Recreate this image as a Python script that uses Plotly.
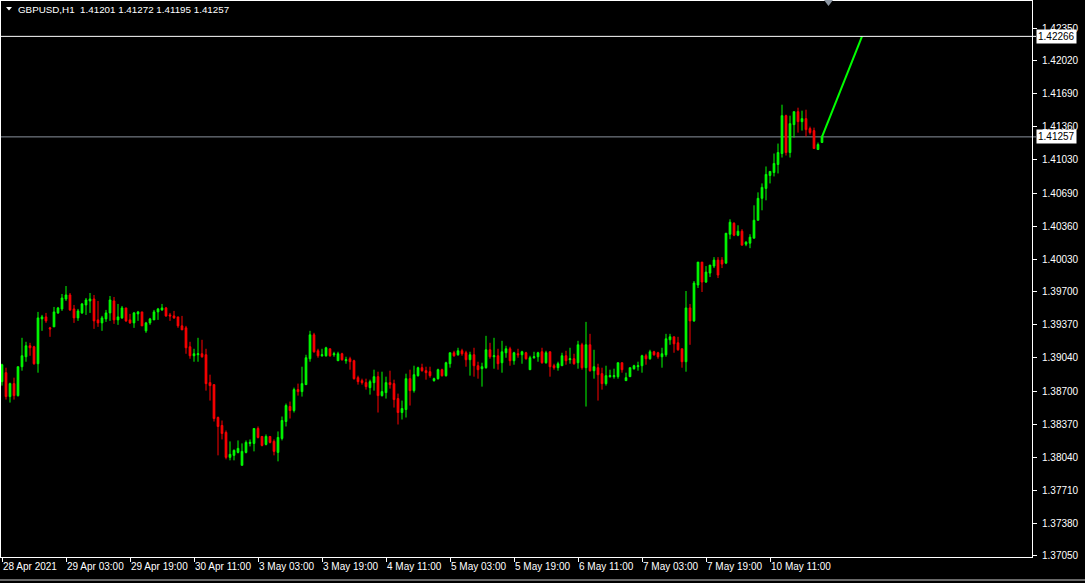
import plotly.graph_objects as go

# ---------------- data ----------------
symbol = "GBPUSD,H1"
bars = list(range(206))

open_ = [
    1.3880, 1.3889, 1.3865, 1.3878, 1.3866, 1.3895, 1.3905, 1.3916, 1.3915, 1.3898,
    1.3943, 1.3945, 1.3934, 1.3935, 1.3949, 1.3953, 1.3963, 1.3967, 1.3953, 1.3944,
    1.3949, 1.3957, 1.3961, 1.3963, 1.3942, 1.3939, 1.3943, 1.3949, 1.3961, 1.3942,
    1.3944, 1.3954, 1.3942, 1.3939, 1.3948, 1.3950, 1.3931, 1.3939, 1.3942, 1.3950,
    1.3952, 1.3954, 1.3947, 1.3946, 1.3945, 1.3936, 1.3934, 1.3915, 1.3906, 1.3907,
    1.3908, 1.3907, 1.3879, 1.3877, 1.3844, 1.3836, 1.3829, 1.3804, 1.3806, 1.3809,
    1.3796, 1.3809, 1.3818, 1.3818, 1.3833, 1.3825, 1.3817, 1.3825, 1.3820, 1.3809,
    1.3823, 1.3840, 1.3855, 1.3851, 1.3872, 1.3870, 1.3877, 1.3903, 1.3927, 1.3911,
    1.3906, 1.3906, 1.3913, 1.3907, 1.3901, 1.3908, 1.3901, 1.3903, 1.3901, 1.3884,
    1.3881, 1.3879, 1.3874, 1.3879, 1.3885, 1.3866, 1.3869, 1.3879, 1.3878, 1.3863,
    1.3849, 1.3852, 1.3883, 1.3871, 1.3886, 1.3894, 1.3891, 1.3890, 1.3881, 1.3883,
    1.3892, 1.3886, 1.3898, 1.3909, 1.3907, 1.3911, 1.3909, 1.3902, 1.3907, 1.3896,
    1.3893, 1.3894, 1.3912, 1.3905, 1.3906, 1.3899, 1.3909, 1.3913, 1.3901, 1.3908,
    1.3907, 1.3909, 1.3892, 1.3904, 1.3905, 1.3910, 1.3899, 1.3910, 1.3896, 1.3894,
    1.3896, 1.3906, 1.3902, 1.3903, 1.3899, 1.3917, 1.3894, 1.3917, 1.3891, 1.3894,
    1.3888, 1.3878, 1.3885, 1.3885, 1.3885, 1.3899, 1.3881, 1.3885, 1.3893, 1.3895,
    1.3896, 1.3906, 1.3903, 1.3910, 1.3909, 1.3905, 1.3907, 1.3922, 1.3925, 1.3919,
    1.3913, 1.3900, 1.3954, 1.3941, 1.3977, 1.4000, 1.3980, 1.3989, 1.3996, 1.4002,
    1.4002, 1.3999, 1.4028, 1.4039, 1.4027, 1.4031, 1.4018, 1.4019, 1.4024, 1.4042,
    1.4064, 1.4074, 1.4087, 1.4090, 1.4098, 1.4109, 1.4147, 1.4110, 1.4138, 1.4151,
    1.4141, 1.4144, 1.4134, 1.4132, 1.4113, 1.41201,
]
high = [
    1.3898, 1.3894, 1.3879, 1.3884, 1.3895, 1.3924, 1.3920, 1.3919, 1.3916, 1.3950,
    1.3947, 1.3949, 1.3935, 1.3955, 1.3955, 1.3968, 1.3976, 1.3969, 1.3957, 1.3953,
    1.3959, 1.3964, 1.3969, 1.3967, 1.3961, 1.3946, 1.3952, 1.3966, 1.3965, 1.3958,
    1.3956, 1.3954, 1.3948, 1.3950, 1.3951, 1.3950, 1.3940, 1.3944, 1.3952, 1.3954,
    1.3958, 1.3955, 1.3949, 1.3951, 1.3945, 1.3946, 1.3936, 1.3920, 1.3913, 1.3924,
    1.3922, 1.3913, 1.3887, 1.3877, 1.3845, 1.3841, 1.3831, 1.3820, 1.3812, 1.3821,
    1.3818, 1.3821, 1.3822, 1.3833, 1.3835, 1.3825, 1.3827, 1.3825, 1.3822, 1.3830,
    1.3845, 1.3858, 1.3860, 1.3874, 1.3878, 1.3895, 1.3907, 1.3931, 1.3929, 1.3913,
    1.3913, 1.3915, 1.3913, 1.3910, 1.3910, 1.3909, 1.3905, 1.3905, 1.3902, 1.3886,
    1.3883, 1.3883, 1.3882, 1.3892, 1.3890, 1.3890, 1.3885, 1.3891, 1.3882, 1.3868,
    1.3861, 1.3888, 1.3892, 1.3896, 1.3895, 1.3898, 1.3895, 1.3895, 1.3884, 1.3893,
    1.3893, 1.3900, 1.3909, 1.3911, 1.3914, 1.3913, 1.3911, 1.3910, 1.3914, 1.3900,
    1.3899, 1.3926, 1.3919, 1.3924, 1.3913, 1.3921, 1.3916, 1.3915, 1.3910, 1.3913,
    1.3911, 1.3910, 1.3906, 1.3910, 1.3910, 1.3914, 1.3911, 1.3910, 1.3898, 1.3900,
    1.3909, 1.3911, 1.3914, 1.3908, 1.3921, 1.3919, 1.3940, 1.3928, 1.3912, 1.3898,
    1.3894, 1.3896, 1.3892, 1.3893, 1.3899, 1.3899, 1.3889, 1.3894, 1.3897, 1.3900,
    1.3907, 1.3908, 1.3912, 1.3911, 1.3910, 1.3914, 1.3928, 1.3928, 1.3925, 1.3925,
    1.3913, 1.3971, 1.3958, 1.3981, 1.4000, 1.4000, 1.3996, 1.3997, 1.4005, 1.4005,
    1.4005, 1.4029, 1.4043, 1.4040, 1.4037, 1.4033, 1.4021, 1.4028, 1.4057, 1.4070,
    1.4079, 1.4096, 1.4091, 1.4109, 1.4119, 1.4158, 1.4148, 1.4147, 1.4151, 1.4155,
    1.4152, 1.4153, 1.4136, 1.4135, 1.4120, 1.41272,
]
low = [
    1.3876, 1.3862, 1.3859, 1.3862, 1.3865, 1.3891, 1.3900, 1.3906, 1.3897, 1.3889,
    1.3931, 1.3939, 1.3925, 1.3935, 1.3948, 1.3951, 1.3961, 1.3951, 1.3939, 1.3941,
    1.3948, 1.3947, 1.3949, 1.3933, 1.3935, 1.3931, 1.3940, 1.3941, 1.3938, 1.3937,
    1.3943, 1.3940, 1.3938, 1.3934, 1.3941, 1.3936, 1.3929, 1.3937, 1.3942, 1.3942,
    1.3951, 1.3945, 1.3941, 1.3943, 1.3934, 1.3932, 1.3908, 1.3903, 1.3900, 1.3900,
    1.3904, 1.3871, 1.3861, 1.3840, 1.3806, 1.3822, 1.3802, 1.3801, 1.3801, 1.3808,
    1.3796, 1.3808, 1.3815, 1.3810, 1.3823, 1.3815, 1.3816, 1.3818, 1.3806, 1.3800,
    1.3821, 1.3835, 1.3843, 1.3849, 1.3866, 1.3865, 1.3877, 1.3900, 1.3909, 1.3904,
    1.3905, 1.3905, 1.3905, 1.3905, 1.3901, 1.3901, 1.3898, 1.3892, 1.3882, 1.3877,
    1.3877, 1.3872, 1.3867, 1.3871, 1.3849, 1.3865, 1.3863, 1.3873, 1.3854, 1.3837,
    1.3842, 1.3844, 1.3856, 1.3869, 1.3885, 1.3890, 1.3882, 1.3884, 1.3880, 1.3882,
    1.3885, 1.3885, 1.3894, 1.3905, 1.3906, 1.3906, 1.3895, 1.3886, 1.3885, 1.3883,
    1.3875, 1.3893, 1.3903, 1.3893, 1.3892, 1.3889, 1.3904, 1.3896, 1.3897, 1.3904,
    1.3898, 1.3902, 1.3892, 1.3903, 1.3900, 1.3898, 1.3898, 1.3885, 1.3892, 1.3891,
    1.3896, 1.3897, 1.3898, 1.3897, 1.3893, 1.3892, 1.3855, 1.3890, 1.3883, 1.3861,
    1.3872, 1.3876, 1.3884, 1.3883, 1.3883, 1.3889, 1.3881, 1.3885, 1.3892, 1.3891,
    1.3889, 1.3897, 1.3902, 1.3906, 1.3903, 1.3894, 1.3905, 1.3917, 1.3909, 1.3911,
    1.3894, 1.3890, 1.3917, 1.3940, 1.3974, 1.3970, 1.3979, 1.3985, 1.3994, 1.3984,
    1.3994, 1.3998, 1.4023, 1.4026, 1.4026, 1.4017, 1.4016, 1.4014, 1.4024, 1.4042,
    1.4052, 1.4062, 1.4079, 1.4086, 1.4089, 1.4105, 1.4107, 1.4105, 1.4125, 1.4130,
    1.4132, 1.4126, 1.4128, 1.4114, 1.4113, 1.41195,
]
close = [
    1.3897, 1.3865, 1.3878, 1.3866, 1.3895, 1.3906, 1.3916, 1.3914, 1.3898, 1.3944,
    1.3945, 1.3941, 1.3933, 1.3950, 1.3954, 1.3964, 1.3967, 1.3952, 1.3944, 1.3951,
    1.3958, 1.3962, 1.3963, 1.3941, 1.3939, 1.3944, 1.3949, 1.3962, 1.3942, 1.3945,
    1.3954, 1.3941, 1.3939, 1.3949, 1.3950, 1.3936, 1.3939, 1.3943, 1.3950, 1.3953,
    1.3954, 1.3946, 1.3946, 1.3944, 1.3936, 1.3932, 1.3914, 1.3906, 1.3908, 1.3908,
    1.3905, 1.3878, 1.3876, 1.3843, 1.3835, 1.3828, 1.3804, 1.3807, 1.3811, 1.3813,
    1.3810, 1.3819, 1.3819, 1.3833, 1.3824, 1.3816, 1.3825, 1.3819, 1.3810, 1.3824,
    1.3841, 1.3856, 1.3851, 1.3872, 1.3870, 1.3878, 1.3904, 1.3927, 1.3910, 1.3906,
    1.3907, 1.3914, 1.3906, 1.3908, 1.3908, 1.3902, 1.3902, 1.3900, 1.3883, 1.3880,
    1.3879, 1.3875, 1.3880, 1.3885, 1.3866, 1.3870, 1.3879, 1.3877, 1.3862, 1.3849,
    1.3853, 1.3883, 1.3871, 1.3887, 1.3894, 1.3891, 1.3889, 1.3886, 1.3883, 1.3892,
    1.3886, 1.3899, 1.3909, 1.3906, 1.3911, 1.3908, 1.3902, 1.3907, 1.3896, 1.3892,
    1.3895, 1.3912, 1.3905, 1.3906, 1.3898, 1.3910, 1.3913, 1.3901, 1.3909, 1.3907,
    1.3910, 1.3903, 1.3904, 1.3905, 1.3909, 1.3899, 1.3909, 1.3895, 1.3894, 1.3898,
    1.3906, 1.3901, 1.3903, 1.3898, 1.3917, 1.3894, 1.3917, 1.3891, 1.3895, 1.3887,
    1.3878, 1.3886, 1.3886, 1.3886, 1.3899, 1.3892, 1.3884, 1.3894, 1.3896, 1.3896,
    1.3906, 1.3903, 1.3910, 1.3907, 1.3905, 1.3908, 1.3923, 1.3925, 1.3918, 1.3912,
    1.3900, 1.3954, 1.3941, 1.3979, 1.4000, 1.3980, 1.3990, 1.3997, 1.4002, 1.3987,
    1.3998, 1.4029, 1.4040, 1.4027, 1.4031, 1.4017, 1.4020, 1.4025, 1.4042, 1.4064,
    1.4075, 1.4088, 1.4091, 1.4099, 1.4110, 1.4147, 1.4110, 1.4139, 1.4151, 1.4141,
    1.4144, 1.4133, 1.4130, 1.4114, 1.4118, 1.41257,
]

time_tick_bars = [0, 16, 32, 48, 64, 80, 96, 112, 128, 144, 160, 176, 192]
time_tick_labels = [
    "28 Apr 2021", "29 Apr 03:00", "29 Apr 19:00", "30 Apr 11:00", "3 May 03:00",
    "3 May 19:00", "4 May 11:00", "5 May 03:00", "5 May 19:00", "6 May 11:00",
    "7 May 03:00", "7 May 19:00", "10 May 11:00",
]
price_ticks = [
    1.42350, 1.42020, 1.41690, 1.41360, 1.41030, 1.40690, 1.40360, 1.40030,
    1.39700, 1.39370, 1.39040, 1.38700, 1.38370, 1.38040, 1.37710, 1.37380, 1.37050,
]
level_line = 1.42266
trend_x = [205, 215]
trend_y = [1.41257, 1.42266]

# ---------------- layout geometry ----------------
W, H = 1085, 583
PL, PT, PR, PB = 1, 1, 1032, 557   # plot area in pixels


def pxx(px):
    return (px - PL) / (PR - PL)


def pxy(py):
    return (PB - py) / (PB - PT)


FONT = "Liberation Sans, Arial, sans-serif"
GREEN = "#00ff00"
RED = "#ff0000"

fig = go.Figure()
fig.add_trace(go.Candlestick(
    x=bars, open=open_, high=high, low=low, close=close,
    increasing=dict(line=dict(color=GREEN, width=1), fillcolor=GREEN),
    decreasing=dict(line=dict(color=RED, width=1), fillcolor=RED),
    whiskerwidth=0, showlegend=False, hoverinfo="skip",
))
fig.add_trace(go.Scatter(
    x=trend_x, y=trend_y, mode="lines",
    line=dict(color=GREEN, width=2), showlegend=False, hoverinfo="skip",
))

shapes = [
    dict(type="line", xref="paper", yref="y", x0=0, x1=pxx(1036), y0=level_line, y1=level_line,
         line=dict(color="#ffffff", width=1), layer="above"),
    dict(type="line", xref="paper", yref="y", x0=0, x1=pxx(1036), y0=close[-1], y1=close[-1],
         line=dict(color="#8a939e", width=1), layer="below"),
    dict(type="path", xref="paper", yref="paper",
         path=f"M {pxx(824)} {pxy(0)} L {pxx(833)} {pxy(0)} L {pxx(828.5)} {pxy(6)} Z",
         fillcolor="#8c96a2", line=dict(width=0), layer="above"),
    dict(type="path", xref="paper", yref="paper",
         path=f"M {pxx(6)} {pxy(7)} L {pxx(12)} {pxy(7)} L {pxx(9)} {pxy(10.5)} Z",
         fillcolor="#ffffff", line=dict(width=0), layer="above"),
    dict(type="line", xref="paper", yref="paper", x0=pxx(0), x1=pxx(1085), y0=pxy(580), y1=pxy(580),
         line=dict(color="#d0d0d0", width=1)),
]

title_text = (f"{symbol}\u00a0\u00a0{open_[-1]:.5f} {high[-1]:.5f} "
              f"{low[-1]:.5f} {close[-1]:.5f}")

annotations = [
    dict(text=title_text, xref="paper", yref="paper", x=pxx(16), y=pxy(9),
         xanchor="left", yanchor="middle", showarrow=False,
         font=dict(family=FONT, size=9.8, color="#ffffff")),
    dict(text=f"{level_line:.5f}", xref="paper", yref="y", x=pxx(1036), y=level_line,
         xanchor="left", yanchor="middle", showarrow=False, bgcolor="#ffffff",
         borderpad=1, font=dict(family=FONT, size=10, color="#000000")),
    dict(text=f"{close[-1]:.5f}", xref="paper", yref="y", x=pxx(1036), y=close[-1],
         xanchor="left", yanchor="middle", showarrow=False, bgcolor="#ffffff",
         borderpad=1, font=dict(family=FONT, size=10, color="#000000")),
]

y_top = 1.42350 + (28 - PT) / 9962
y_bot = 1.42350 - (PB - 28) / 9962

fig.update_layout(
    width=W, height=H,
    margin=dict(l=PL, r=W - PR, t=PT, b=H - PB, pad=0, autoexpand=False),
    paper_bgcolor="#000000", plot_bgcolor="#000000",
    boxgap=0.4,
    showlegend=False,
    shapes=shapes,
    annotations=annotations,
    font=dict(family=FONT, size=10, color="#ffffff"),
    xaxis=dict(
        range=[-0.25, -0.25 + (PR - PL) / 4.0],
        rangeslider=dict(visible=False),
        showgrid=False, zeroline=False, automargin=False,
        showline=True, linecolor="#ffffff", linewidth=1, mirror=True,
        ticks="outside", ticklen=4, tickcolor="#ffffff", tickwidth=1,
        tickvals=time_tick_bars, ticktext=time_tick_labels,
        ticklabelposition="outside right", tickangle=0,
        tickfont=dict(family=FONT, size=10, color="#ffffff"),
        fixedrange=True,
    ),
    yaxis=dict(
        side="right",
        range=[y_bot, y_top],
        showgrid=False, zeroline=False, automargin=False,
        showline=True, linecolor="#ffffff", linewidth=1, mirror=True,
        ticks="outside", ticklen=4, tickcolor="#ffffff", tickwidth=1,
        ticklabelstandoff=3,
        tickvals=price_ticks, ticktext=[f"{v:.5f}" for v in price_ticks],
        tickfont=dict(family=FONT, size=10, color="#ffffff"),
        fixedrange=True,
    ),
)

fig.write_html(
    "out.html",
    config={"displayModeBar": False},
    post_script="document.body.style.margin='0px';document.body.style.background='#000000';document.body.style.overflow='hidden';",
)
